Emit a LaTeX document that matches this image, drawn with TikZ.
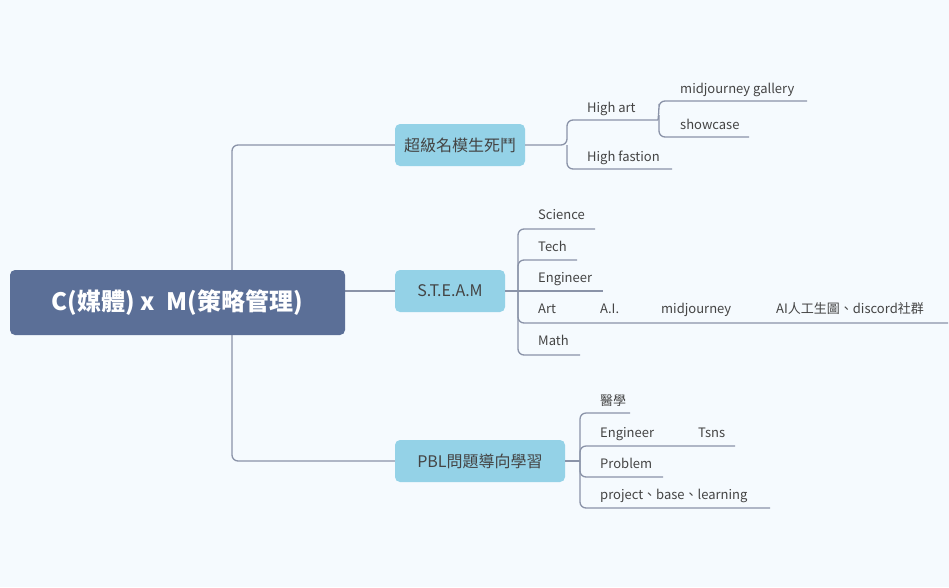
\documentclass[tikz,border=0pt]{standalone}
\usepackage{fontspec}
\setmainfont{Open Sans}
\newfontfamily\cjk{Noto Sans CJK TC}
\definecolor{bg}{HTML}{F5FAFE}
\definecolor{rootc}{HTML}{5B6F97}
\definecolor{brc}{HTML}{94D2E7}
\definecolor{ln}{HTML}{8A93A8}
\definecolor{tx}{HTML}{444444}
\pgfdeclarelayer{background}
\pgfsetlayers{background,main}
\begin{document}
\begin{tikzpicture}[x=1pt,y=-1pt,
 root/.style={fill=rootc,rounded corners=5pt,minimum width=335pt,minimum height=65pt,text=white,font=\bfseries\fontsize{24}{26}\selectfont\cjk},
 br/.style={fill=brc,rounded corners=5pt,minimum height=42pt,text=tx,font=\fontsize{16}{18}\selectfont\cjk},
 lf/.style={anchor=base west,text=tx,font=\fontsize{13}{15}\selectfont\cjk,inner sep=0pt},
 con/.style={draw=ln,line width=1.3pt,rounded corners=6pt}]
\node[root] (r) at (177.5,302.5) {C(媒體) x\enspace M(策略管理)};
\node[br,minimum width=130pt] (b1) at (460,145) {超級名模生死鬥};
\node[br,minimum width=110pt] (b2) at (450,291) {S.T.E.A.M};
\node[br,minimum width=170pt] (b3) at (480,461) {PBL問題導向學習};
\begin{pgfonlayer}{background}
\fill[bg] (0,0) rectangle (949,587);
\draw[con] (b1.west) -| (232,461) -- (b3.west);
\draw[con] (r.east |- b2.west) -- (b2.west);
\end{pgfonlayer}
% branch 1
\draw[con] (b1.east) -- (567,145) |- (658,120);
\draw[con] (567,145) |- (672,169);
\node[lf] (ha) at (587,112) {High art};
\node[lf] (hf) at (587,161) {High fastion};
\draw[con] (658,120) -- (659,110) |- (807,101);
\draw[con] (659,115) |- (749,137);
\node[lf] (mg) at (680,93) {midjourney gallery};
\node[lf] (sc) at (680,129) {showcase};
% branch 2
\draw[con] (b2.east) -- (518,291);
\draw[con] (518,291) |- (595,229);
\draw[con] (518,291) |- (577,260);
\draw[con] (518,291) -- (603,291);
\draw[con] (518,291) |- (948,323);
\draw[con] (518,291) |- (580,355);
\node[lf] (s) at (538,219) {Science};
\node[lf] (t) at (538,251) {Tech};
\node[lf] (e) at (538,282) {Engineer};
\node[lf] (a) at (538,313) {Art};
\node[lf] (ai) at (600,313) {A.I.};
\node[lf] (mj) at (661,313) {midjourney};
\node[lf] (dc) at (776,313) {AI人工生圖、discord社群};
\node[lf] (m) at (538,345) {Math};
% branch 3
\draw[con] (b3.east) -- (580,461);
\draw[con] (580,461) |- (630,413);
\draw[con] (580,461) |- (735,446);
\draw[con] (580,461) |- (663,477);
\draw[con] (580,461) |- (770,508);
\node[lf] (yx) at (600,405) {醫學};
\node[lf] (en) at (600,437) {Engineer};
\node[lf] (ts) at (698,437) {Tsns};
\node[lf] (pr) at (600,468) {Problem};
\node[lf] (pj) at (600,499) {project、base、learning};
\end{tikzpicture}
\end{document}
